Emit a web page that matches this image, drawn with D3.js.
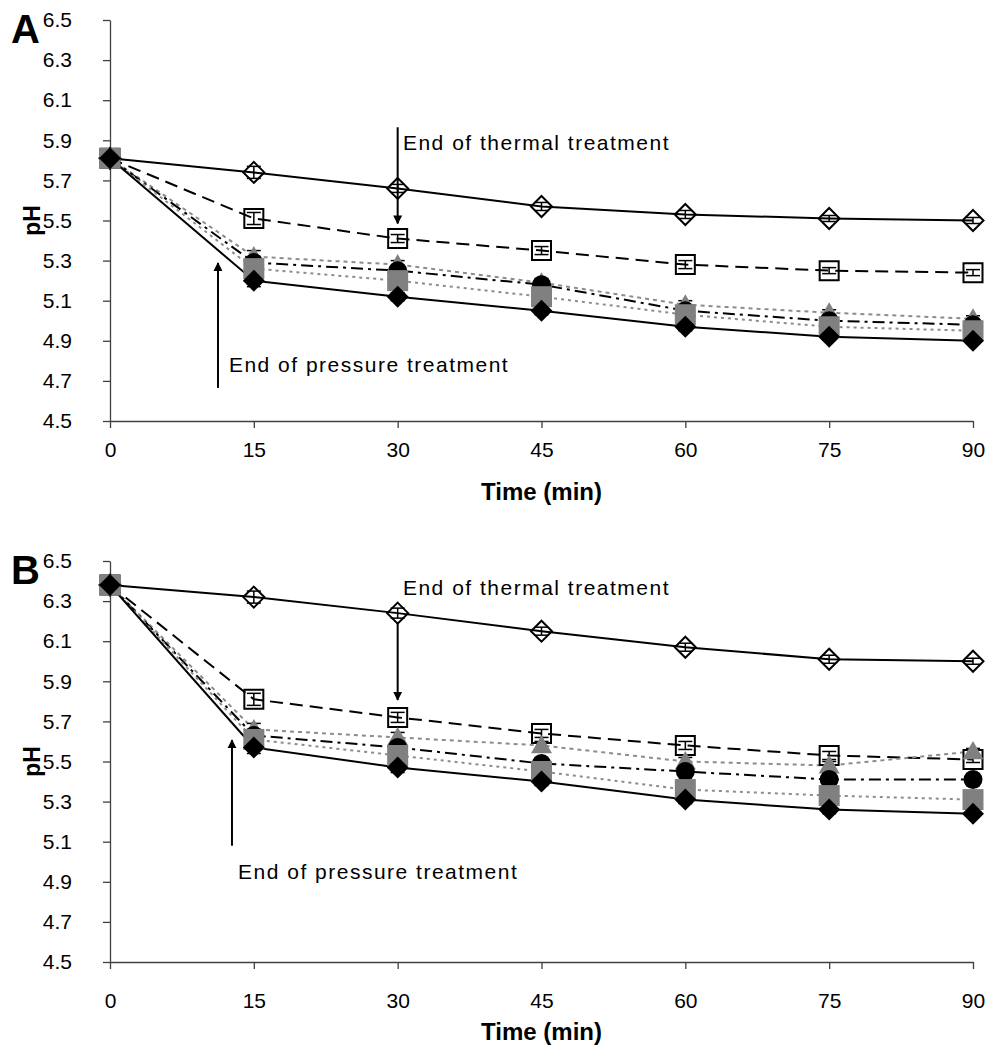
<!DOCTYPE html>
<html>
<head>
<meta charset="utf-8">
<script src="https://cdn.jsdelivr.net/npm/d3@7"></script>
<style>
body{margin:0;background:#fff;}
text{font-family:"Liberation Sans", Arial, sans-serif;}
</style>
</head>
<body>
<div id="chart"></div>
<script>
// time points (min) and pH tick values
var times = [0, 15, 30, 45, 60, 75, 90];
var phTicks = [4.5, 4.7, 4.9, 5.1, 5.3, 5.5, 5.7, 5.9, 6.1, 6.3, 6.5];

// panel A
var a_open_diamond  = [5.81, 5.74, 5.66, 5.57, 5.53, 5.51, 5.50];
var a_open_square   = [5.81, 5.51, 5.41, 5.35, 5.28, 5.25, 5.24];
var a_gray_triangle = [5.81, 5.32, 5.28, 5.19, 5.08, 5.04, 5.01];
var a_black_circle  = [5.81, 5.29, 5.25, 5.18, 5.05, 5.00, 4.98];
var a_gray_square   = [5.81, 5.26, 5.20, 5.12, 5.03, 4.97, 4.95];
var a_black_diamond = [5.81, 5.20, 5.12, 5.05, 4.97, 4.92, 4.90];
var a_err = [0, 0.03, 0.02, 0.02, 0.02, 0.015, 0.015];

// panel B
var b_open_diamond  = [6.38, 6.32, 6.24, 6.15, 6.07, 6.01, 6.00];
var b_open_square   = [6.38, 5.81, 5.72, 5.64, 5.58, 5.53, 5.51];
var b_gray_triangle = [6.38, 5.66, 5.62, 5.58, 5.50, 5.48, 5.55];
var b_black_circle  = [6.38, 5.63, 5.57, 5.49, 5.45, 5.41, 5.41];
var b_gray_square   = [6.38, 5.61, 5.53, 5.45, 5.36, 5.33, 5.31];
var b_black_diamond = [6.38, 5.57, 5.47, 5.40, 5.31, 5.26, 5.24];
var b_err = [0, 0.03, 0.025, 0.02, 0.02, 0.02, 0.015];

// annotations: [time, pH from, pH to] and text anchor [time, pH]
var a_thermal_arrow = [30, 5.965, 5.485];
var a_thermal_text = [30.55, 5.887];
var a_pressure_arrow = [11.26, 4.665, 5.288];
var a_pressure_text = [12.4, 4.78];
var b_thermal_arrow = [30, 6.196, 5.807];
var b_thermal_text = [30.55, 6.37];
var b_pressure_arrow = [12.72, 5.08, 5.607];
var b_pressure_text = [13.35, 4.95];

var styles = [
	{marker:'diamond', r:10.5, fill:'none', stroke:'#000', line:'#000', dash:null},
	{marker:'square', r:9.5, fill:'none', stroke:'#000', line:'#000', dash:'13,7'},
	{marker:'triangle', r:10.5, fill:'#808080', stroke:'none', line:'#8c8c8c', dash:'4,4'},
	{marker:'circle', r:9.5, fill:'#000', stroke:'none', line:'#000', dash:'12,5,3,5'},
	{marker:'square', r:10.5, fill:'#808080', stroke:'none', line:'#8c8c8c', dash:'3,4'},
	{marker:'diamond', r:11, fill:'#000', stroke:'none', line:'#000', dash:null}
];

var svg = d3.select('#chart').append('svg')
	.attr('width', 992).attr('height', 1046)
	.style('background', '#fff');

svg.append('defs').append('marker')
	.attr('id', 'head')
	.attr('viewBox', '0 0 10 10')
	.attr('refX', 9).attr('refY', 5)
	.attr('markerWidth', 9).attr('markerHeight', 11)
	.attr('markerUnits', 'userSpaceOnUse')
	.attr('orient', 'auto')
	.append('path').attr('d', 'M0,0 L10,5 L0,10 Z').attr('fill', '#000');

function markerPath(type, r){
	if(type == 'diamond') return 'M0,' + (-r) + 'L' + r + ',0L0,' + r + 'L' + (-r) + ',0Z';
	if(type == 'square') return 'M' + (-r) + ',' + (-r) + 'h' + (2 * r) + 'v' + (2 * r) + 'h' + (-2 * r) + 'Z';
	if(type == 'triangle') return 'M0,' + (-r) + 'L' + r + ',' + (0.75 * r) + 'L' + (-r) + ',' + (0.75 * r) + 'Z';
	return d3.symbol().type(d3.symbolCircle).size(Math.PI * r * r)();
}

function drawPanel(p){
	var x = d3.scaleLinear().domain([0, 90]).range([110, 973]);
	var y = d3.scaleLinear().domain([4.5, 6.5]).range([p.bottom, p.top]);
	var g = svg.append('g');

	var yAxis = g.append('g').attr('transform', 'translate(110,0)')
		.call(d3.axisLeft(y).tickValues(phTicks).tickSize(7).tickSizeOuter(0).tickPadding(31)
		.tickFormat(d3.format('.1f')));
	var xAxis = g.append('g').attr('transform', 'translate(0,' + p.bottom + ')')
		.call(d3.axisBottom(x).tickValues(times).tickSize(7).tickSizeOuter(0).tickPadding(p.xpad));
	[yAxis, xAxis].forEach(function(a){
		a.selectAll('path,line').attr('stroke', '#404040').attr('stroke-width', 1.3);
		a.selectAll('text').attr('font-size', 21).attr('fill', '#000')
			.attr('font-family', '"Liberation Sans", Arial, sans-serif');
	});

	g.append('text').attr('x', x(45)).attr('y', p.titleY)
		.attr('text-anchor', 'middle').attr('dominant-baseline', 'central')
		.attr('font-size', 24).attr('font-weight', 'bold').text('Time (min)');
	g.append('text')
		.attr('transform', 'translate(32,' + y(5.5) + ') rotate(-90)')
		.attr('text-anchor', 'middle').attr('dominant-baseline', 'central')
		.attr('font-size', 23).attr('font-weight', 'bold').text('pH');
	g.append('text').attr('x', 11).attr('y', p.top + 23)
		.attr('font-size', 40).attr('font-weight', 'bold').text(p.letter);

	var line = d3.line().x(function(d, i){ return x(times[i]); }).y(function(d){ return y(d); });

	g.selectAll('.series-line').data(p.series).enter().append('path')
		.attr('class', 'series-line')
		.attr('d', function(d){ return line(d); })
		.attr('fill', 'none')
		.attr('stroke', function(d, i){ return styles[i].line; })
		.attr('stroke-width', 2)
		.attr('stroke-dasharray', function(d, i){ return styles[i].dash; });

	// error bars
	p.series.forEach(function(s, si){
		var eg = g.append('g');
		s.forEach(function(v, i){
			var e = p.err[i];
			if(!e) return;
			var cx = x(times[i]);
			eg.append('line').attr('x1', cx).attr('x2', cx).attr('y1', y(v - e)).attr('y2', y(v + e))
				.attr('stroke', '#000').attr('stroke-width', 1.5);
			[v - e, v + e].forEach(function(w){
				eg.append('line').attr('x1', cx - 7).attr('x2', cx + 7).attr('y1', y(w)).attr('y2', y(w))
					.attr('stroke', '#000').attr('stroke-width', 1.5);
			});
		});
	});

	// markers
	p.series.forEach(function(s, si){
		var st = styles[si];
		g.append('g').selectAll('path').data(s).enter().append('path')
			.attr('transform', function(d, i){ return 'translate(' + x(times[i]) + ',' + y(d) + ')'; })
			.attr('d', markerPath(st.marker, st.r))
			.attr('fill', st.fill)
			.attr('stroke', st.stroke)
			.attr('stroke-width', 2);
	});

	// annotations
	[[p.thermalArrow, p.thermalText, 'End of thermal treatment'],
	 [p.pressureArrow, p.pressureText, 'End of pressure treatment']].forEach(function(a){
		g.append('line')
			.attr('x1', x(a[0][0])).attr('x2', x(a[0][0]))
			.attr('y1', y(a[0][1])).attr('y2', y(a[0][2]))
			.attr('stroke', '#000').attr('stroke-width', 2)
			.attr('marker-end', 'url(#head)');
		g.append('text').attr('x', x(a[1][0])).attr('y', y(a[1][1]))
			.attr('dominant-baseline', 'central')
			.attr('font-size', 21).attr('letter-spacing', 1.5)
			.text(a[2]);
	});
}

drawPanel({
	letter:'A', top:20, bottom:421, xpad:14, titleY:491,
	series:[a_open_diamond, a_open_square, a_gray_triangle, a_black_circle, a_gray_square, a_black_diamond],
	err:a_err,
	thermalArrow:a_thermal_arrow, thermalText:a_thermal_text,
	pressureArrow:a_pressure_arrow, pressureText:a_pressure_text
});
drawPanel({
	letter:'B', top:561, bottom:962, xpad:24, titleY:1031,
	series:[b_open_diamond, b_open_square, b_gray_triangle, b_black_circle, b_gray_square, b_black_diamond],
	err:b_err,
	thermalArrow:b_thermal_arrow, thermalText:b_thermal_text,
	pressureArrow:b_pressure_arrow, pressureText:b_pressure_text
});
</script>
</body>
</html>
